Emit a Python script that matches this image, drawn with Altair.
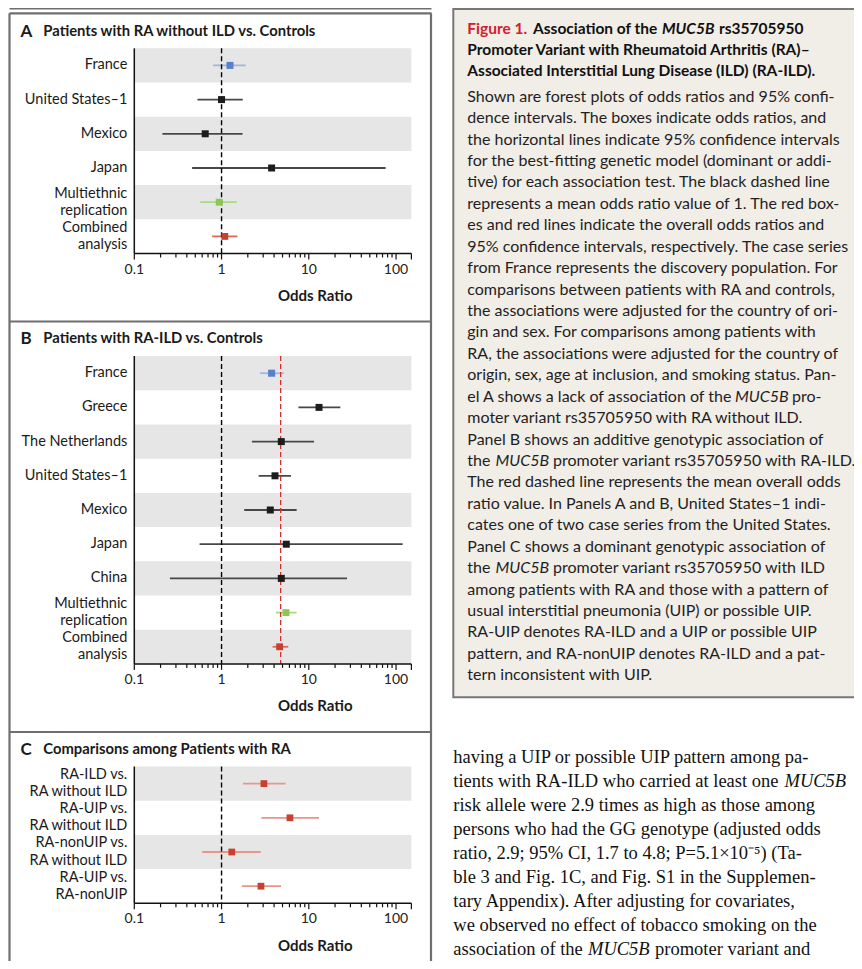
import altair as alt
import pandas as pd

# ---------------- data ----------------
A_labels = ["France", "United States\u20131", "Mexico", "Japan",
            "Multiethnic\nreplication", "Combined\nanalysis"]
A_or = [1.25, 1.00, 0.65, 3.75, 0.94, 1.09]
A_lo = [0.80, 0.53, 0.21, 0.46, 0.57, 0.78]
A_hi = [1.89, 1.75, 1.74, 76.0, 1.49, 1.52]
A_group = ["discovery", "cohort", "cohort", "cohort", "replication", "overall"]

B_labels = ["France", "Greece", "The Netherlands", "United States\u20131", "Mexico",
            "Japan", "China", "Multiethnic\nreplication", "Combined\nanalysis"]
B_or = [3.75, 13.1, 4.84, 4.10, 3.62, 5.52, 4.84, 5.48, 4.63]
B_lo = [2.76, 7.6, 2.23, 2.66, 1.82, 0.56, 0.256, 4.20, 3.85]
B_hi = [5.15, 23.0, 11.5, 6.25, 7.26, 119.0, 27.4, 7.26, 5.82]
B_group = ["discovery", "cohort", "cohort", "cohort", "cohort", "cohort", "cohort",
           "replication", "overall"]
B_mean_or = 4.76

C_labels = ["RA-ILD vs.\nRA without ILD", "RA-UIP vs.\nRA without ILD",
            "RA-nonUIP vs.\nRA without ILD", "RA-UIP vs.\nRA-nonUIP"]
C_or = [3.06, 6.08, 1.31, 2.83]
C_lo = [1.76, 2.86, 0.60, 1.71]
C_hi = [5.43, 13.1, 2.81, 4.80]
C_group = ["comparison"] * 4

null_or = 1.0
axis_domain = [0.1, 150]
major_ticks = [0.1, 1, 10, 100]
major_tick_labels = ["0.1", "1", "10", "100"]
minor_ticks = [k * m for m in (0.1, 1, 10) for k in range(2, 10)]

panel_titles = [("A", "Patients with RA without ILD vs. Controls"),
                ("B", "Patients with RA-ILD vs. Controls"),
                ("C", "Comparisons among Patients with RA")]

caption_title = [
    [("Figure 1.", "red"), ("Association of the", "b"), ("MUC5B", "bi"), ("rs35705950", "b")],
    [("Promoter Variant with Rheumatoid Arthritis (RA)\u2013", "b")],
    [("Associated Interstitial Lung Disease (ILD) (RA-ILD).", "b")],
]
caption_body = [
    "Shown are forest plots of odds ratios and 95% confi-",
    "dence intervals. The boxes indicate odds ratios, and",
    "the horizontal lines indicate 95% confidence intervals",
    "for the best-fitting genetic model (dominant or addi-",
    "tive) for each association test. The black dashed line",
    "represents a mean odds ratio value of 1. The red box-",
    "es and red lines indicate the overall odds ratios and",
    "95% confidence intervals, respectively. The case series",
    "from France represents the discovery population. For",
    "comparisons between patients with RA and controls,",
    "the associations were adjusted for the country of ori-",
    "gin and sex. For comparisons among patients with",
    "RA, the associations were adjusted for the country of",
    "origin, sex, age at inclusion, and smoking status. Pan-",
    [("el A shows a lack of association of the", 0), ("MUC5B", 1), ("pro-", 2)],
    "moter variant rs35705950 with RA without ILD.",
    "Panel B shows an additive genotypic association of",
    [("the", 0), ("MUC5B", 3), ("promoter variant rs35705950 with RA-ILD.", 4)],
    "The red dashed line represents the mean overall odds",
    "ratio value. In Panels A and B, United States\u20131 indi-",
    "cates one of two case series from the United States.",
    "Panel C shows a dominant genotypic association of",
    [("the", 0), ("MUC5B", 3), ("promoter variant rs35705950 with ILD", 4)],
    "among patients with RA and those with a pattern of",
    "usual interstitial pneumonia (UIP) or possible UIP.",
    "RA-UIP denotes RA-ILD and a UIP or possible UIP",
    "pattern, and RA-nonUIP denotes RA-ILD and a pat-",
    "tern inconsistent with UIP.",
]
article_body = [
    "having a UIP or possible UIP pattern among pa-",
    [("tients with RA-ILD who carried at least one", 0), ("MUC5B", 5)],
    "risk allele were 2.9 times as high as those among",
    "persons who had the GG genotype (adjusted odds",
    "ratio, 2.9; 95% CI, 1.7 to 4.8; P=5.1\u00d710\u207b\u2075) (Ta-",
    "ble 3 and Fig. 1C, and Fig. S1 in the Supplemen-",
    "tary Appendix). After adjusting for covariates,",
    "we observed no effect of tobacco smoking on the",
    [("association of the", 0), ("MUC5B", 6), ("promoter variant and", 7)],
]

# ---------------- layout ----------------
W, H = 846, 953
OFF = 8
def cx(p):
    return p - OFF

SANS = "Lato"
SERIF = "Liberation Serif"
STEP = 34.2
ROW0 = cx(48.3)
X_RANGE = [cx(134.3), cx(411.4)]

panels = [("A", A_labels, A_or, A_lo, A_hi, A_group, 0),
          ("B", B_labels, B_or, B_lo, B_hi, B_group, 9),
          ("C", C_labels, C_or, C_lo, C_hi, C_group, 21)]
N_ROWS = 25

row_keys = [f"row{i}" for i in range(N_ROWS)]
recs = []
bands = []
panel_geo = []
for name, labels, ors, los, his, groups_, start in panels:
    top = ROW0 + start * STEP
    bottom = top + len(labels) * STEP
    panel_geo.append((name, top, bottom))
    for i, lab in enumerate(labels):
        key = row_keys[start + i]
        recs.append(dict(key=key, label=lab, orv=ors[i], lo=los[i], hi=his[i],
                         group=groups_[i], two="\n" in lab))
        if i % 2 == 0:
            bands.append(dict(key=key, x0=axis_domain[0], x1=axis_domain[1]))
forest = pd.DataFrame(recs)
band_df = pd.DataFrame(bands)

x_scale = alt.Scale(type="log", domain=axis_domain, range=X_RANGE, nice=False)
y_scale = alt.Scale(type="band", domain=row_keys,
                    range=[ROW0, ROW0 + N_ROWS * STEP], paddingInner=0, paddingOuter=0)

groups = ["discovery", "cohort", "replication", "overall", "comparison"]
box_colors = ["#5b80ca", "#1c1c1c", "#8cc850", "#c9402f", "#c9402f"]
line_colors = ["#9fb6e2", "#474747", "#a9d980", "#de6a58", "#e8958a"]
box_sizes = [50, 46, 74, 102, 102]

X = lambda f: alt.X(f, scale=x_scale, axis=None)
Y = alt.Y("key:N", scale=y_scale, axis=None)

layers = []

# caption box
cap_box = pd.DataFrame([dict(x=cx(453.3), x2=W + 20, y=1, y2=cx(697.3))])
layers.append(alt.Chart(cap_box).mark_rect(fill="#f1ede7", stroke="#777777", strokeWidth=2).encode(
    x=alt.X("x:Q", scale=None), x2="x2", y=alt.Y("y:Q", scale=None), y2="y2"))

# frames of left column
frame_rules = pd.DataFrame([
    dict(x=cx(9.5), x2=cx(431.5), y=0.5, y2=0.5),
    dict(x=cx(9.5), x2=cx(431.5), y=cx(13.3), y2=cx(13.3)),
    dict(x=cx(9.5), x2=cx(431.5), y=cx(321.5), y2=cx(321.5)),
    dict(x=cx(9.5), x2=cx(431.5), y=cx(732), y2=cx(732)),
    dict(x=cx(9.5), x2=cx(9.5), y=cx(13.3), y2=H + 5),
    dict(x=cx(431), x2=cx(431), y=cx(13.3), y2=H + 5),
])
layers.append(alt.Chart(frame_rules).mark_rule(color="#6f6f6f", strokeWidth=2.2).encode(
    x=alt.X("x:Q", scale=None), x2="x2", y=alt.Y("y:Q", scale=None), y2="y2"))

# grey bands
layers.append(alt.Chart(band_df).mark_rect(color="#e6e6e6").encode(x=X("x0:Q"), x2="x1", y=Y))

# axes geometry
axis_rows, tick_rows, ref_rows = [], [], []
for name, top, bottom in panel_geo:
    axis_rows.append(dict(v0=axis_domain[0], v1=axis_domain[1], top=top, ay=bottom))
    for t in major_ticks + [axis_domain[1]]:
        tick_rows.append(dict(v=t, y0=bottom, y1=bottom + 6))
    for t in minor_ticks:
        tick_rows.append(dict(v=t, y0=bottom, y1=bottom + 4))
    ref_rows.append(dict(v=null_or, top=top, bottom=bottom))
axis_df = pd.DataFrame(axis_rows)
tick_df = pd.DataFrame(tick_rows)
ref_df = pd.DataFrame(ref_rows)
B_geo = panel_geo[1]
mean_df = pd.DataFrame([dict(v=B_mean_or, top=B_geo[1], bottom=B_geo[2])])

# CI lines
layers.append(alt.Chart(forest).mark_rule(strokeWidth=1.8).encode(
    x=X("lo:Q"), x2="hi", y=Y,
    color=alt.Color("group:N", scale=alt.Scale(domain=groups, range=line_colors), legend=None)))

# reference lines
layers.append(alt.Chart(ref_df).mark_rule(color="#000000", strokeWidth=1.4, strokeDash=[5, 3]).encode(
    x=X("v:Q"), y=alt.Y("top:Q", scale=None), y2="bottom"))
layers.append(alt.Chart(mean_df).mark_rule(color="#d0302a", strokeWidth=1.3, strokeDash=[5, 3]).encode(
    x=X("v:Q"), y=alt.Y("top:Q", scale=None), y2="bottom"))

# boxes
layers.append(alt.Chart(forest).mark_square(opacity=1).encode(
    x=X("orv:Q"), y=Y,
    color=alt.Color("group:N", scale=alt.Scale(domain=groups, range=box_colors), legend=None),
    size=alt.Size("group:N", scale=alt.Scale(domain=groups, range=box_sizes), legend=None)))

# axis lines + ticks
layers.append(alt.Chart(axis_df).mark_rule(color="#111111", strokeWidth=1.5).encode(
    x=X("v0:Q"), x2="v1", y=alt.Y("ay:Q", scale=None)))
layers.append(alt.Chart(axis_df).mark_rule(color="#111111", strokeWidth=1.5).encode(
    x=X("v0:Q"), y=alt.Y("top:Q", scale=None), y2="ay"))
layers.append(alt.Chart(tick_df).mark_rule(color="#111111", strokeWidth=1.2).encode(
    x=X("v:Q"), y=alt.Y("y0:Q", scale=None), y2="y1"))

# tick labels and axis titles
tl_rows, at_rows = [], []
for name, top, bottom in panel_geo:
    for v, s in zip(major_ticks, major_tick_labels):
        tl_rows.append(dict(v=v, y=bottom + 16, t=s))
    at_rows.append(dict(x=cx(278), y=bottom + 42.4, t="Odds Ratio"))
layers.append(alt.Chart(pd.DataFrame(tl_rows)).mark_text(
    font=SANS, fontSize=14, color="#222222", baseline="middle", align="center").encode(
    x=X("v:Q"), y=alt.Y("y:Q", scale=None), text="t:N"))

def text_layer(items, size, weight="normal", style="normal", color="#1a1a1a", font=SANS,
               align="left"):
    df = pd.DataFrame(items, columns=["x", "y", "t"])
    return alt.Chart(df).mark_text(
        fontSize=size, fontWeight=weight, fontStyle=style, color=color, font=font,
        align=align, baseline="middle").encode(
        x=alt.X("x:Q", scale=None), y=alt.Y("y:Q", scale=None), text="t:N")

layers.append(text_layer([(r["x"], r["y"], r["t"]) for r in at_rows], 15, weight="bold"))

# panel titles
letters, titles = [], []
for (letter, title), (name, top, bottom) in zip(panel_titles, panel_geo):
    letters.append((cx(20.5), top - 16.8, letter))
    titles.append((cx(43.3), top - 16.8, title))
layers.append(text_layer(letters, 17, weight="bold"))
layers.append(text_layer(titles, 14.8, weight="bold"))

# row labels (one-line and two-line)
LH = 17.3
for two, dy in ((False, 0), (True, -LH / 2)):
    layers.append(alt.Chart(forest[forest["two"] == two]).mark_text(
        font=SANS, fontSize=14.5, color="#1a1a1a", align="right", baseline="middle",
        lineBreak="\n", lineHeight=LH, dy=dy).encode(
        x=alt.value(cx(127.3)), y=Y, text="label:N"))

# caption
CAP_X = cx(467.3)
title_y = [cx(29.3), cx(50), cx(71)]
seg_x_title = {0: [CAP_X, cx(533), cx(662), cx(719)]}
style_items = {"red": [], "b": [], "bi": []}
for li, segs in enumerate(caption_title):
    xs = seg_x_title.get(li, [CAP_X])
    for (s, st), xx in zip(segs, xs):
        style_items[st].append((xx, title_y[li], s))
layers.append(text_layer(style_items["red"], 15.5, weight="bold", color="#d0202c"))
layers.append(text_layer(style_items["b"], 15.5, weight="bold", color="#111111"))
layers.append(text_layer(style_items["bi"], 15.5, weight="bold", style="italic", color="#111111"))

seg_x_cap = {0: CAP_X, 1: cx(735), 2: cx(792), 3: cx(495.5), 4: cx(553)}
body_plain, body_ital = [], []
for i, line in enumerate(caption_body):
    yy = cx(96.7) + i * 21.43
    if isinstance(line, str):
        body_plain.append((CAP_X, yy, line))
    else:
        for s, k in line:
            (body_ital if s == "MUC5B" else body_plain).append((seg_x_cap[k], yy, s))
layers.append(text_layer(body_plain, 16, color="#1f1f1f"))
layers.append(text_layer(body_ital, 16, style="italic", color="#1f1f1f"))

ART_X = cx(453.3)
seg_x_art = {0: ART_X, 5: cx(784.5), 6: cx(588), 7: cx(655)}
art_plain, art_ital = [], []
for i, line in enumerate(article_body):
    yy = cx(757) + i * 24.0
    if isinstance(line, str):
        art_plain.append((ART_X, yy, line))
    else:
        for s, k in line:
            (art_ital if s == "MUC5B" else art_plain).append((seg_x_art[k], yy, s))
layers.append(text_layer(art_plain, 18.5, font=SERIF, color="#111111"))
layers.append(text_layer(art_ital, 18.5, font=SERIF, style="italic", color="#111111"))

chart = alt.layer(*layers).properties(
    width=W, height=H, padding=0, autosize=alt.AutoSizeParams(type="none"),
    background="white",
).resolve_scale(
    x="independent", y="independent", color="independent", size="independent"
).configure_view(stroke=None)

chart.save("out.html", embed_options={"renderer": "svg", "actions": False})
